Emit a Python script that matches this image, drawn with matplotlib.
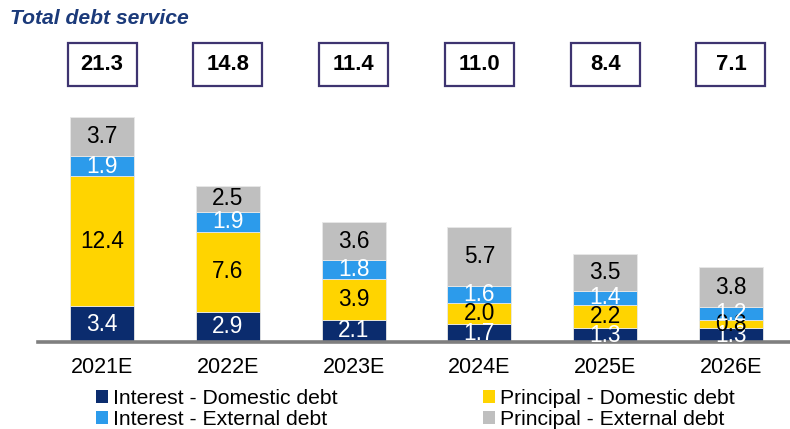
import matplotlib
matplotlib.use("Agg")
import matplotlib.pyplot as plt
from matplotlib.patches import Rectangle, Patch
from matplotlib.transforms import blended_transform_factory
import numpy as np

plt.rcParams['font.family'] = ['Liberation Sans', 'DejaVu Sans']

categories = ["2021E", "2022E", "2023E", "2024E", "2025E", "2026E"]
interest_domestic = [3.4, 2.9, 2.1, 1.7, 1.3, 1.3]
principal_domestic = [12.4, 7.6, 3.9, 2.0, 2.2, 0.8]
interest_external = [1.9, 1.9, 1.8, 1.6, 1.4, 1.2]
principal_external = [3.7, 2.5, 3.6, 5.7, 3.5, 3.8]
totals = [21.3, 14.8, 11.4, 11.0, 8.4, 7.1]

series = [
    ("Interest - Domestic debt", interest_domestic, "#0B2C6E", "white"),
    ("Principal - Domestic debt", principal_domestic, "#FFD400", "black"),
    ("Interest - External debt", interest_external, "#2C9BEB", "white"),
    ("Principal - External debt", principal_external, "#BFBFBF", "black"),
]

W, H = 790, 429
fig = plt.figure(figsize=(W / 100, H / 100), dpi=100)
ax = fig.add_axes([38 / W, 87 / H, 1 - 38 / W, (22 * 10.5) / H])

x = np.arange(len(categories))
bottom = np.zeros(len(categories))
for name, vals, col, tcol in series:
    vals = np.array(vals)
    ax.bar(x, vals, width=0.51, bottom=bottom, color=col,
           edgecolor="#E8E8E8", linewidth=0.6, label=name)
    for xi, b, v in zip(x, bottom, vals):
        ax.text(xi, b + v / 2, f"{v:.1f}", ha="center", va="center",
                fontsize=16.3, color=tcol)
    bottom += vals

ax.set_xlim(-0.51, 5.47)
ax.set_ylim(0, 22)
for s in ["top", "right", "left"]:
    ax.spines[s].set_visible(False)
ax.spines["bottom"].set_color("#7F7F7F")
ax.spines["bottom"].set_linewidth(2.6)
ax.set_yticks([])
ax.set_xticks(x)
ax.set_xticklabels(categories, fontsize=15.5)
ax.tick_params(axis="x", length=0, pad=11)

# total boxes
tr = blended_transform_factory(ax.transData, fig.transFigure)
bw = 69 / 125.7
for xi, t in zip(x, totals):
    rect = Rectangle((xi - bw / 2, (H - 86) / H), bw, 43 / H, transform=tr,
                     facecolor="white", edgecolor="#3E3470", linewidth=1.6,
                     clip_on=False, zorder=1)
    fig.add_artist(rect)
    fig.text(xi, (H - 64.5) / H, f"{t:.1f}", transform=tr, ha="center",
             va="center", fontsize=15.8, fontweight="bold", color="black",
             zorder=5)

fig.text(10 / W, (H - 18) / H, "Total debt service", fontsize=15.2,
         fontweight="bold", fontstyle="italic", color="#1B3A7A",
         ha="left", va="center")

order = ["Interest - Domestic debt", "Interest - External debt",
         "Principal - Domestic debt", "Principal - External debt"]
colmap = {n: c for n, _, c, _ in series}
leg_handles = [Patch(facecolor=colmap[n]) for n in order]
fig.legend(leg_handles, order, ncol=2, loc="upper left",
           bbox_to_anchor=(96 / W, (H - 389) / H), frameon=False,
           fontsize=15.2, handlelength=0.55, handleheight=0.55,
           handletextpad=0.25, columnspacing=6.9, labelspacing=0.08,
           borderpad=0, borderaxespad=0)

fig.savefig("out.png", dpi=100)
